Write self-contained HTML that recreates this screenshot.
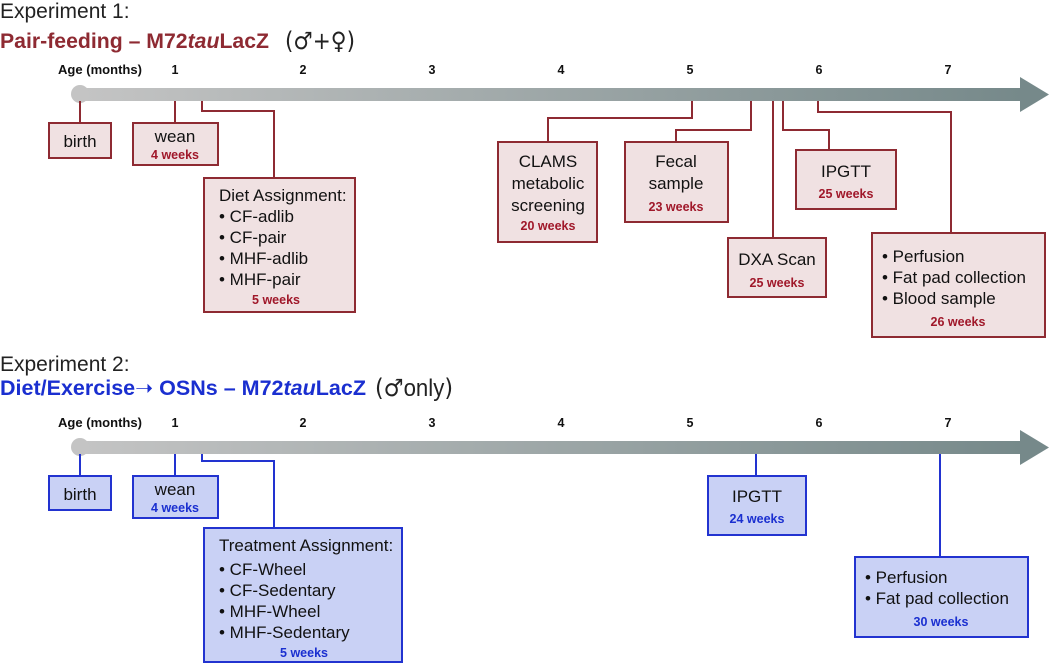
<!DOCTYPE html>
<html><head><meta charset="utf-8"><style>
body{margin:0;background:#fff}
svg{display:block}
text{font-family:"Liberation Sans","DejaVu Sans",sans-serif}
.t{font-size:17px;fill:#111}
.h{font-size:21px;fill:#222}
.ag{font-size:12.5px;font-weight:bold;fill:#111}
.wr{font-size:12.5px;font-weight:bold;fill:#a0182a}
.wb{font-size:12.5px;font-weight:bold;fill:#1a2fd0}
.r{fill:#f0e1e2;stroke:#8e2a32;stroke-width:2}
.b{fill:#c9d1f5;stroke:#2233d0;stroke-width:2}
.lr{fill:none;stroke:#8e2a32;stroke-width:2}
.lb{fill:none;stroke:#2233d0;stroke-width:2}
.sym{font-family:"DejaVu Sans",sans-serif;font-size:24px;fill:#222}
</style></head><body>
<svg width="1050" height="667" viewBox="0 0 1050 667">
<defs>
<linearGradient id="g" x1="0" x2="1" y1="0" y2="0">
<stop offset="0" stop-color="#c4c4c4"/><stop offset="1" stop-color="#76898a"/>
</linearGradient>
</defs>
<text x="0" y="18" class="h">Experiment 1:</text>
<text x="0" y="48" style="font-size:21.5px;font-weight:bold;fill:#8e2a32" textLength="269" lengthAdjust="spacingAndGlyphs">Pair-feeding – M72<tspan font-style="italic">tau</tspan>LacZ</text>
<text x="285" y="49" class="sym" textLength="70" lengthAdjust="spacingAndGlyphs">(♂+♀)</text>
<text x="0" y="371" class="h">Experiment 2:</text>
<text x="0" y="395" style="font-size:21.5px;font-weight:bold;fill:#1a2fd0" textLength="366" lengthAdjust="spacingAndGlyphs">Diet/Exercise<tspan font-weight="normal">➝</tspan> OSNs – M72<tspan font-style="italic">tau</tspan>LacZ</text>
<text x="375" y="396" class="sym" textLength="78" lengthAdjust="spacingAndGlyphs">(♂<tspan font-family="Liberation Sans">only</tspan>)</text>

<g>
<text x="100" y="74" class="ag" text-anchor="middle" textLength="84" lengthAdjust="spacingAndGlyphs">Age (months)</text>
<text x="175" y="74" class="ag" text-anchor="middle">1</text>
<text x="303" y="74" class="ag" text-anchor="middle">2</text>
<text x="432" y="74" class="ag" text-anchor="middle">3</text>
<text x="561" y="74" class="ag" text-anchor="middle">4</text>
<text x="690" y="74" class="ag" text-anchor="middle">5</text>
<text x="819" y="74" class="ag" text-anchor="middle">6</text>
<text x="948" y="74" class="ag" text-anchor="middle">7</text>
<rect x="80" y="88" width="942" height="13" fill="url(#g)"/>
<circle cx="80" cy="94" r="9" fill="#c4c4c4"/>
<polygon points="1020,77 1049,94.5 1020,112" fill="#76898a"/>
</g>
<path class="lr" d="M80 101V123 M175 101V123 M202 101V111H274V178 M692 101V118H548V142 M751 101V130H676V142 M783 101V130H829V150 M773 101V238 M818 101V112H951V233"/>
<rect class="r" x="49" y="123" width="62" height="35"/>
<text x="80" y="147" class="t" text-anchor="middle">birth</text>
<rect class="r" x="133" y="123" width="85" height="42"/>
<text x="175" y="142" class="t" text-anchor="middle">wean</text>
<text x="175" y="159" class="wr" text-anchor="middle">4 weeks</text>
<rect class="r" x="204" y="178" width="151" height="134"/>
<text x="219" y="201" class="t">Diet Assignment:</text>
<text x="219" y="222" class="t">• CF-adlib</text>
<text x="219" y="243" class="t">• CF-pair</text>
<text x="219" y="264" class="t">• MHF-adlib</text>
<text x="219" y="285" class="t">• MHF-pair</text>
<text x="276" y="304" class="wr" text-anchor="middle">5 weeks</text>
<rect class="r" x="498" y="142" width="99" height="100"/>
<text x="548" y="167" class="t" text-anchor="middle">CLAMS</text>
<text x="548" y="189" class="t" text-anchor="middle">metabolic</text>
<text x="548" y="211" class="t" text-anchor="middle">screening</text>
<text x="548" y="230" class="wr" text-anchor="middle">20 weeks</text>
<rect class="r" x="625" y="142" width="103" height="80"/>
<text x="676" y="167" class="t" text-anchor="middle">Fecal</text>
<text x="676" y="189" class="t" text-anchor="middle">sample</text>
<text x="676" y="211" class="wr" text-anchor="middle">23 weeks</text>
<rect class="r" x="796" y="150" width="100" height="59"/>
<text x="846" y="177" class="t" text-anchor="middle">IPGTT</text>
<text x="846" y="198" class="wr" text-anchor="middle">25 weeks</text>
<rect class="r" x="728" y="238" width="98" height="59"/>
<text x="777" y="265" class="t" text-anchor="middle">DXA Scan</text>
<text x="777" y="287" class="wr" text-anchor="middle">25 weeks</text>
<rect class="r" x="872" y="233" width="173" height="104"/>
<text x="882" y="262" class="t">• Perfusion</text>
<text x="882" y="283" class="t">• Fat pad collection</text>
<text x="882" y="304" class="t">• Blood sample</text>
<text x="958" y="326" class="wr" text-anchor="middle">26 weeks</text>

<g>
<text x="100" y="427" class="ag" text-anchor="middle" textLength="84" lengthAdjust="spacingAndGlyphs">Age (months)</text>
<text x="175" y="427" class="ag" text-anchor="middle">1</text>
<text x="303" y="427" class="ag" text-anchor="middle">2</text>
<text x="432" y="427" class="ag" text-anchor="middle">3</text>
<text x="561" y="427" class="ag" text-anchor="middle">4</text>
<text x="690" y="427" class="ag" text-anchor="middle">5</text>
<text x="819" y="427" class="ag" text-anchor="middle">6</text>
<text x="948" y="427" class="ag" text-anchor="middle">7</text>
<rect x="80" y="441" width="942" height="13" fill="url(#g)"/>
<circle cx="80" cy="447" r="9" fill="#c4c4c4"/>
<polygon points="1020,430 1049,447.5 1020,465" fill="#76898a"/>
</g>
<path class="lb" d="M80 454V476 M175 454V476 M202 454V461H274V528 M756 454V476 M940 454V557"/>
<rect class="b" x="49" y="476" width="62" height="34"/>
<text x="80" y="500" class="t" text-anchor="middle">birth</text>
<rect class="b" x="133" y="476" width="85" height="42"/>
<text x="175" y="495" class="t" text-anchor="middle">wean</text>
<text x="175" y="512" class="wb" text-anchor="middle">4 weeks</text>
<rect class="b" x="204" y="528" width="198" height="134"/>
<text x="219" y="551" class="t">Treatment Assignment:</text>
<text x="219" y="575" class="t">• CF-Wheel</text>
<text x="219" y="596" class="t">• CF-Sedentary</text>
<text x="219" y="617" class="t">• MHF-Wheel</text>
<text x="219" y="638" class="t">• MHF-Sedentary</text>
<text x="304" y="657" class="wb" text-anchor="middle">5 weeks</text>
<rect class="b" x="708" y="476" width="98" height="59"/>
<text x="757" y="502" class="t" text-anchor="middle">IPGTT</text>
<text x="757" y="523" class="wb" text-anchor="middle">24 weeks</text>
<rect class="b" x="855" y="557" width="173" height="80"/>
<text x="865" y="583" class="t">• Perfusion</text>
<text x="865" y="604" class="t">• Fat pad collection</text>
<text x="941" y="626" class="wb" text-anchor="middle">30 weeks</text>
</svg>
</body></html>
